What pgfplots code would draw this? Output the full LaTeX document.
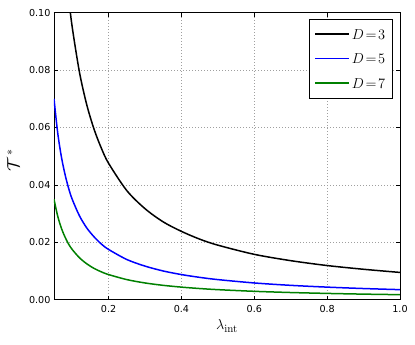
\documentclass[border=0pt]{standalone}
\usepackage[no-math]{fontspec}
\setmainfont{DejaVu Sans}
\usepackage{pgfplots}
\pgfplotsset{compat=1.18}
\definecolor{mplgreen}{rgb}{0,0.5,0}
\begin{document}
\begin{tikzpicture}
\useasboundingbox (-54pt,-45pt) rectangle (361pt,299.7pt);
\begin{axis}[
  at={(0pt,0pt)}, anchor=south west,
  scale only axis, width=346pt, height=287pt,
  xmin=0.05, xmax=1.0, ymin=0, ymax=0.1,
  xtick={0.2,0.4,0.6,0.8,1.0},
  ytick={0,0.02,0.04,0.06,0.08,0.10},
  /pgf/number format/assume math mode=true,
  xticklabel style={/pgf/number format/fixed, /pgf/number format/fixed zerofill, /pgf/number format/precision=1, yshift=-2.5pt},
  yticklabel style={/pgf/number format/fixed, /pgf/number format/fixed zerofill, /pgf/number format/precision=2},
  scaled y ticks=false,
  ticklabel style={font=\fontsize{9.6}{11}\selectfont},
  tick align=inside, major tick length=4pt,
  tick style={black, line width=0.5pt},
  axis line style={line width=0.9pt},
  grid=major,
  major grid style={gray!75, line width=0.5pt, dash pattern=on 1pt off 2pt},
  xlabel={$\lambda_{\mathrm{int}}$},
  ylabel={$\mathcal{T}^{\,*}$},
  xlabel style={font=\fontsize{15}{17}\selectfont, at={(axis description cs:0.5,-0.092)}, anchor=center},
  ylabel style={font=\fontsize{18}{20}\selectfont, at={(axis description cs:-0.118,0.487)}, anchor=center},
  legend style={at={(0.978,0.978)}, anchor=north east, draw=black,
    inner xsep=5pt, inner ysep=8pt, row sep=10.5pt,
    nodes={inner sep=2pt, text height=10pt, text depth=0pt},
    font=\fontsize{14}{16}\selectfont},
  legend cell align=left,
  legend image code/.code={\draw[#1] (0pt,0pt) -- (34pt,0pt);},
]
\addplot[black, line width=1.5pt, smooth] coordinates {
(0.05,0.19) (0.06,0.1583) (0.07,0.1357) (0.08,0.1188) (0.09,0.1056) (0.10,0.095)
(0.12,0.0792) (0.14,0.0679) (0.16,0.0594) (0.18,0.0528) (0.20,0.0475) (0.25,0.038)
(0.30,0.0317) (0.35,0.0271) (0.40,0.0238) (0.45,0.0211) (0.50,0.019) (0.60,0.0158)
(0.70,0.0136) (0.80,0.0119) (0.90,0.0106) (1.00,0.0095)};
\addlegendentry{$D\!=\!3$}
\addplot[blue, line width=1.5pt, smooth] coordinates {
(0.05,0.07) (0.06,0.0583) (0.07,0.05) (0.08,0.0438) (0.09,0.0389) (0.10,0.035)
(0.12,0.0292) (0.14,0.025) (0.16,0.0219) (0.18,0.0194) (0.20,0.0175) (0.25,0.014)
(0.30,0.0117) (0.35,0.01) (0.40,0.00875) (0.45,0.00778) (0.50,0.007) (0.60,0.00583)
(0.70,0.005) (0.80,0.00438) (0.90,0.00389) (1.00,0.0035)};
\addlegendentry{$D\!=\!5$}
\addplot[mplgreen, line width=1.5pt, smooth] coordinates {
(0.05,0.035) (0.06,0.0292) (0.07,0.025) (0.08,0.0219) (0.09,0.0194) (0.10,0.0175)
(0.12,0.0146) (0.14,0.0125) (0.16,0.0109) (0.18,0.0097) (0.20,0.00875) (0.25,0.007)
(0.30,0.00583) (0.35,0.005) (0.40,0.00438) (0.45,0.00389) (0.50,0.0035) (0.60,0.00292)
(0.70,0.0025) (0.80,0.00219) (0.90,0.00194) (1.00,0.00175)};
\addlegendentry{$D\!=\!7$}
\end{axis}
\end{tikzpicture}
\end{document}
